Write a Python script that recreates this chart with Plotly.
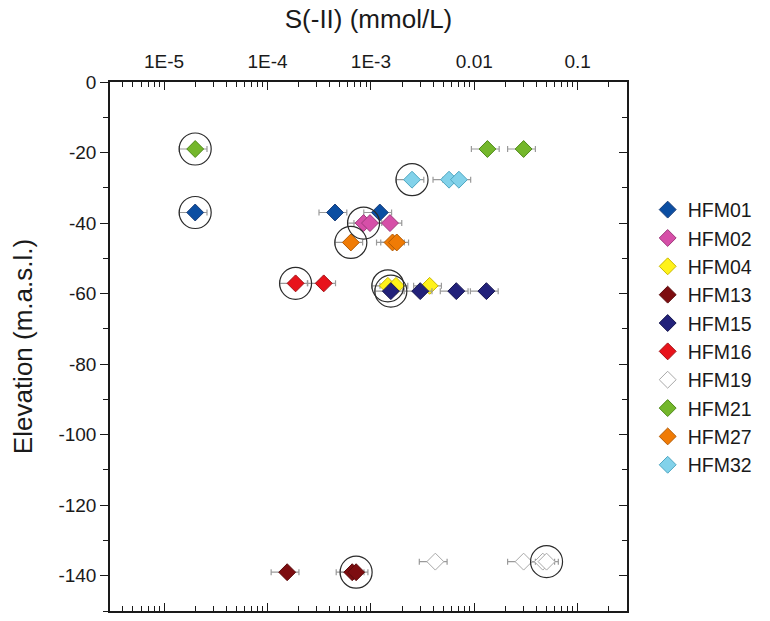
import plotly.graph_objects as go

# Sulphide concentration (mmol/L) vs sampling elevation (m.a.s.l.) per borehole
wells = ["HFM01", "HFM02", "HFM04", "HFM13", "HFM15",
         "HFM16", "HFM19", "HFM21", "HFM27", "HFM32"]

s_HFM01 = [2.0e-5, 4.5e-4, 1.22e-3]
z_HFM01 = [-37, -37, -37]
s_HFM02 = [8.5e-4, 9.8e-4, 1.53e-3]
z_HFM02 = [-40, -40, -40]
s_HFM04 = [1.46e-3, 1.75e-3, 3.7e-3]
z_HFM04 = [-57.8, -57.8, -57.8]
s_HFM13 = [1.55e-4, 6.6e-4, 7.2e-4]
z_HFM13 = [-139, -139, -139]
s_HFM15 = [1.56e-3, 3.0e-3, 6.7e-3, 1.31e-2]
z_HFM15 = [-59.3, -59.3, -59.3, -59.3]
s_HFM16 = [1.87e-4, 3.5e-4]
z_HFM16 = [-57.1, -57.1]
s_HFM19 = [4.2e-3, 3.0e-2, 4.6e-2, 5.0e-2]
z_HFM19 = [-136, -136, -136, -136]
s_HFM21 = [2.0e-5, 1.34e-2, 3.0e-2]
z_HFM21 = [-19, -19, -19]
s_HFM27 = [6.4e-4, 1.62e-3, 1.78e-3]
z_HFM27 = [-45.5, -45.5, -45.5]
s_HFM32 = [2.5e-3, 5.7e-3, 7.1e-3]
z_HFM32 = [-27.7, -27.7, -27.7]

# relative analytical uncertainty (%)
s_error_pct = 30

# samples highlighted with a ring: (well, sample index)
ringed = [("HFM21", 0), ("HFM01", 0), ("HFM32", 0), ("HFM02", 0),
          ("HFM27", 0), ("HFM16", 0), ("HFM04", 0), ("HFM15", 0),
          ("HFM13", 2), ("HFM19", 3)]

x_tick_vals = [1e-5, 1e-4, 1e-3, 1e-2, 1e-1]
x_tick_text = ["1E-5", "1E-4", "1E-3", "0.01", "0.1"]
y_tick_vals = [0, -20, -40, -60, -80, -100, -120, -140]
y_tick_text = ["0", "-20", "-40", "-60", "-80", "-100", "-120", "-140"]

series = {
    "HFM01": (s_HFM01, z_HFM01),
    "HFM02": (s_HFM02, z_HFM02),
    "HFM04": (s_HFM04, z_HFM04),
    "HFM13": (s_HFM13, z_HFM13),
    "HFM15": (s_HFM15, z_HFM15),
    "HFM16": (s_HFM16, z_HFM16),
    "HFM19": (s_HFM19, z_HFM19),
    "HFM21": (s_HFM21, z_HFM21),
    "HFM27": (s_HFM27, z_HFM27),
    "HFM32": (s_HFM32, z_HFM32),
}

fill = {
    "HFM01": "#0b4ea2", "HFM02": "#d64fa8", "HFM04": "#fff21a",
    "HFM13": "#7d0d10", "HFM15": "#22217a", "HFM16": "#e8131b",
    "HFM19": "#ffffff", "HFM21": "#74b72b", "HFM27": "#f07b05",
    "HFM32": "#82d2ea",
}
edge = {
    "HFM01": "#1a3f7a", "HFM02": "#9e3a7c", "HFM04": "#c9b800",
    "HFM13": "#5a0a0b", "HFM15": "#16164f", "HFM16": "#a30e13",
    "HFM19": "#a8a8a8", "HFM21": "#4f8a1a", "HFM27": "#b35a03",
    "HFM32": "#4fa7c2",
}

FONT = "Arial, Liberation Sans, sans-serif"
INK = "#1a1a1a"

fig = go.Figure()

for w in wells:
    xs, zs = series[w]
    fig.add_trace(go.Scatter(
        x=xs, y=zs, mode="markers", name=w,
        marker=dict(symbol="diamond", size=13, color=fill[w],
                    line=dict(color=edge[w], width=1)),
        error_x=dict(type="percent", value=s_error_pct, color="#9a9a9a",
                     thickness=1.2, width=3),
    ))

ring_x = [series[w][0][i] for w, i in ringed]
ring_y = [series[w][1][i] for w, i in ringed]
fig.add_trace(go.Scatter(
    x=ring_x, y=ring_y, mode="markers", showlegend=False, hoverinfo="skip",
    marker=dict(symbol="circle-open", size=32, color="#2b2b2b",
                line=dict(width=1.2, color="#2b2b2b")),
))

# invisible trace that carries the right-hand mirrored elevation axis
fig.add_trace(go.Scatter(x=[1e-3], y=[0], yaxis="y2", mode="markers",
                         marker=dict(opacity=0), showlegend=False,
                         hoverinfo="skip"))

fig.update_layout(
    width=770, height=621,
    margin=dict(l=110, r=143, t=82, b=8),
    paper_bgcolor="white", plot_bgcolor="white",
    font=dict(family=FONT, size=19, color=INK),
    showlegend=True,
    legend=dict(x=1.04, y=0.795, xanchor="left", yanchor="top",
                font=dict(size=19.5, family=FONT, color=INK),
                bgcolor="rgba(0,0,0,0)", itemsizing="trace"),
    xaxis=dict(
        type="log", side="top",
        range=[-5.523, -0.523],
        tickvals=x_tick_vals, ticktext=x_tick_text,
        ticks="inside", ticklen=8, tickwidth=1.2, tickcolor=INK,
        ticklabelstandoff=5,
        minor=dict(ticks="inside", ticklen=5, tickwidth=1,
                   tickcolor=INK, dtick="D1", showgrid=False),
        showline=True, linecolor=INK, linewidth=1.5,
        mirror="ticks", showgrid=False, zeroline=False,
        title=dict(text="S(-II) (mmol/L)", font=dict(size=26, family=FONT),
                   standoff=15),
        tickfont=dict(size=19),
    ),
    yaxis=dict(
        range=[-150, 0],
        tickvals=y_tick_vals, ticktext=y_tick_text,
        ticks="outside", ticklen=8, tickwidth=1.2, tickcolor=INK,
        minor=dict(ticks="outside", ticklen=5, tickwidth=1,
                   tickcolor=INK, dtick=10, showgrid=False),
        showline=True, linecolor=INK, linewidth=1.5,
        showgrid=False, zeroline=False,
        title=dict(text="Elevation (m.a.s.l.)", font=dict(size=26, family=FONT),
                   standoff=18),
        tickfont=dict(size=19),
    ),
    yaxis2=dict(
        overlaying="y", side="right", matches="y",
        range=[-150, 0], dtick=20, showticklabels=False,
        ticks="inside", ticklen=8, tickwidth=1.2, tickcolor=INK,
        minor=dict(ticks="inside", ticklen=5, tickwidth=1,
                   tickcolor=INK, dtick=10, showgrid=False),
        showline=True, linecolor=INK, linewidth=1.5,
        showgrid=False, zeroline=False,
    ),
)

fig.write_html("out.html")
